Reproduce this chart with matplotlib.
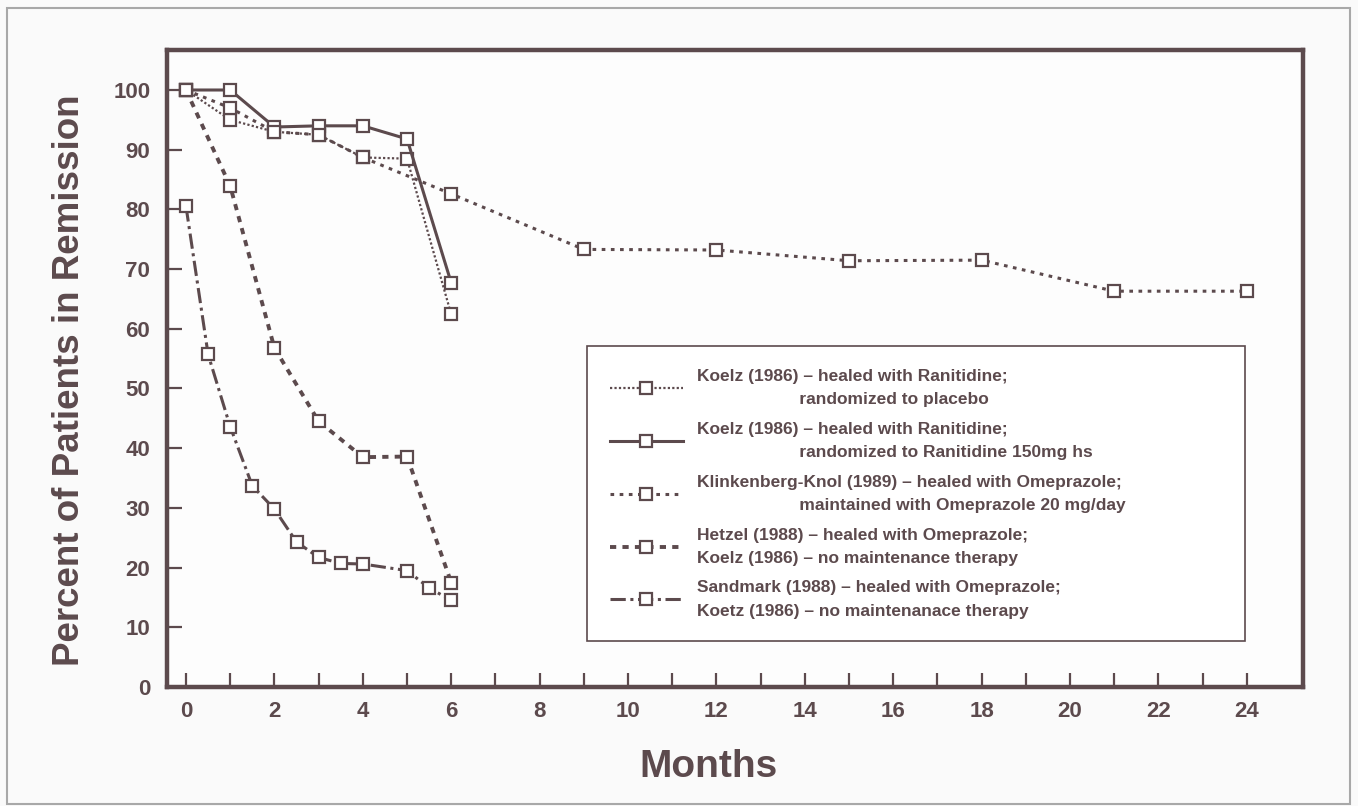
import matplotlib
matplotlib.use("Agg")
import matplotlib.pyplot as plt
from matplotlib.patches import Rectangle

# values (months, percent in remission)
placeboMonths = [0, 1, 2, 3, 4, 5, 6]
placeboPct = [100, 95, 93, 92.5, 88.7, 88.5, 62.4]

ranitidineMonths = [0, 1, 2, 3, 4, 5, 6]
ranitidinePct = [100, 100, 93.8, 94, 94, 91.8, 67.7]

klinkMonths = [0, 1, 2, 3, 4, 6, 9, 12, 15, 18, 21, 24]
klinkPct = [100, 97, 93, 92.5, 88.7, 82.6, 73.3, 73.2, 71.4, 71.5, 66.3, 66.3]

hetzelMonths = [0, 1, 2, 3, 4, 5, 6]
hetzelPct = [100, 83.9, 56.8, 44.5, 38.5, 38.6, 17.5]

sandmarkMonths = [0, 0.5, 1, 1.5, 2, 2.5, 3, 3.5, 4, 5, 5.5, 6]
sandmarkPct = [80.5, 55.7, 43.6, 33.7, 29.8, 24.3, 21.7, 20.7, 20.6, 19.5, 16.6, 14.5]

indent = " " * 21
labels = [
    "Koelz (1986) \u2013 healed with Ranitidine;\n"
    + indent + "randomized to placebo",
    "Koelz (1986) \u2013 healed with Ranitidine;\n"
    + indent + "randomized to Ranitidine 150mg hs",
    "Klinkenberg-Knol (1989) \u2013 healed with Omeprazole;\n"
    + indent + "maintained with Omeprazole 20 mg/day",
    "Hetzel (1988) \u2013 healed with Omeprazole;\n"
    "Koelz (1986) \u2013 no maintenance therapy",
    "Sandmark (1988) \u2013 healed with Omeprazole;\n"
    "Koetz (1986) \u2013 no maintenanace therapy",
]

ink = "#5c4a4d"
plt.rcParams['font.family'] = ['Liberation Sans', 'DejaVu Sans']
plt.rcParams['font.weight'] = 'bold'

fig = plt.figure(figsize=(13.58, 8.06), dpi=100, facecolor="#fafafa")
fig.patches.append(Rectangle((7 / 1358, 2 / 806), 1343 / 1358, 796 / 806,
                             transform=fig.transFigure, fill=False,
                             edgecolor="#a8a8a8", linewidth=1.5))

ax = fig.add_axes([167 / 1358, 119 / 806, 1136 / 1358, 637 / 806])
ax.set_facecolor("#fdfdfd")

mk = dict(marker='s', markersize=9, markerfacecolor='white',
          markeredgecolor=ink, markeredgewidth=1.6, color=ink)

ax.plot(placeboMonths, placeboPct, linestyle=(0, (1, 1)), linewidth=1.6, label=labels[0], **mk)
ax.plot(ranitidineMonths, ranitidinePct, linestyle='-', linewidth=2.2, label=labels[1], **mk)
ax.plot(klinkMonths, klinkPct, linestyle=(0, (1.2, 1.8)), linewidth=2.2, label=labels[2], **mk)
ax.plot(hetzelMonths, hetzelPct, linestyle=(0, (1.6, 1.6)), linewidth=2.8, label=labels[3], **mk)
ax.plot(sandmarkMonths, sandmarkPct, linestyle=(0, (5, 1.5, 1, 1.5)), linewidth=2.2, label=labels[4], **mk)

ax.set_xlim(-0.43, 25.27)
ax.set_ylim(0, 106.7)

ax.set_xticks(range(0, 25))
ax.set_xticklabels([str(m) if m % 2 == 0 else "" for m in range(0, 25)])
ax.set_yticks(range(0, 101, 10))

for s in ax.spines.values():
    s.set_color(ink)
    s.set_linewidth(3.2)

ax.tick_params(axis='both', direction='in', color=ink, width=1.6,
               labelcolor=ink, labelsize=16)
ax.tick_params(axis='y', length=11, pad=12)
ax.tick_params(axis='x', length=10, pad=10)

ax.set_ylabel("Percent of Patients in Remission", fontsize=26.5, color=ink, fontweight='bold')
ax.set_xlabel("Months", fontsize=28, color=ink, fontweight='bold')
ax.yaxis.set_label_coords(-0.070, 0.482)
ax.xaxis.set_label_coords(0.477, -0.097)

leg = ax.legend(loc='upper left', bbox_to_anchor=(0.370, 0.075, 0.579, 0.46),
                mode='expand', borderaxespad=0, fontsize=12.5,
                numpoints=1, handlelength=4.2, handletextpad=0.8, borderpad=1.3,
                labelspacing=0.85, fancybox=False, framealpha=1, frameon=True)
leg.get_frame().set_edgecolor(ink)
leg.get_frame().set_linewidth(1.2)
for t in leg.get_texts():
    t.set_color(ink)
    t.set_linespacing(1.68)

fig.savefig("out.png", dpi=100, facecolor=fig.get_facecolor())
